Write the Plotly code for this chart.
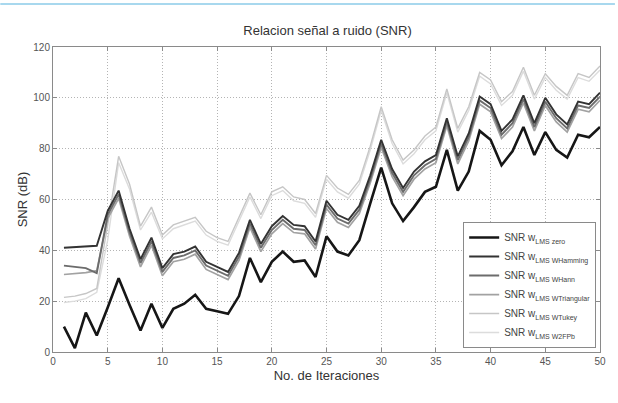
import plotly.graph_objects as go

iteraciones = list(range(1, 51))

snr_zero = [10, 1.5, 15.5, 6.5, 17.5, 29, 18.5, 8.5, 19, 9.5,
            17, 19, 22.5, 17, 16, 15, 22, 37, 27.5, 35.5,
            39.5, 35.5, 36, 29.5, 45.5, 39.5, 38, 44, 58.5, 72.5,
            58.5, 51.5, 57, 63, 65, 79.5, 63.5, 71, 87, 83.5,
            73.5, 79, 88.5, 77.5, 86.5, 79.5, 76.5, 85.5, 84.5, 88.5]

snr_hamming = [41, 41.2, 41.5, 41.8, 55.5, 63.5, 48.5, 36.5, 45, 33,
               38.5, 39.5, 41.5, 35.5, 33.5, 31.5, 39, 52, 42.5, 49.5,
               53.5, 50, 49.5, 43.5, 59.5, 54, 52, 57.5, 69.5, 83.5,
               72, 64.5, 71, 75, 77.5, 92, 77, 86, 100.5, 97.5,
               87, 91.5, 101, 90, 100, 93.5, 89.5, 98.5, 97.5, 102]

snr_hann = [34, 33.5, 33, 31, 54, 62, 47, 35, 43.5, 31.5,
            37, 38, 40, 34, 32, 30, 37.5, 50.5, 41, 48,
            52, 48.5, 48, 42, 58, 52.5, 50.5, 56, 68, 82,
            70.5, 63, 69.5, 73.5, 76, 90.5, 75.5, 84.5, 99, 96,
            85.5, 90, 99.5, 88.5, 98.5, 92, 88, 97, 96, 100.5]

snr_triangular = [30.5, 30.8, 31.2, 32, 52.5, 60.5, 45.5, 33.5, 42, 30,
                  35.5, 36.5, 38.5, 32.5, 30.5, 28.5, 36, 49, 39.5, 46.5,
                  50.5, 47, 46.5, 40.5, 56.5, 51, 49, 54.5, 66.5, 80.5,
                  69, 61.5, 68, 72, 74.5, 89, 74, 83, 97.5, 94.5,
                  84, 88.5, 98, 87, 97, 90.5, 86.5, 95.5, 94.5, 99]

snr_tukey = [21.5, 22, 23, 25, 50, 77, 66, 49.5, 57, 46,
             50, 51.5, 53, 47.5, 45, 43.5, 53, 62.5, 54, 63,
             65, 61, 60, 54.5, 69.5, 64.5, 62, 67.5, 81, 96.5,
             83.5, 75.5, 79.5, 85, 88.5, 103.5, 88, 96.5, 110, 107,
             98.5, 102.5, 112, 101, 109.5, 104.5, 101, 109.5, 108, 112.5]

snr_2fpb = [19.5, 20, 21, 23.5, 44, 74.5, 64, 48, 55, 44.5,
            48.5, 50, 51.5, 46, 43.5, 42, 51.5, 61, 52.5, 61.5,
            63.5, 59.5, 58.5, 53, 68, 63, 60.5, 66, 79.5, 95,
            82, 74, 78, 83.5, 87, 102, 86.5, 95, 108.5, 105.5,
            97, 101, 110.5, 99.5, 108, 103, 99.5, 108, 106.5, 111]

series = [
    ("SNR w<sub>LMS zero</sub>", snr_zero, "#161616", 2.6),
    ("SNR w<sub>LMS WHamming</sub>", snr_hamming, "#333333", 1.9),
    ("SNR w<sub>LMS WHann</sub>", snr_hann, "#6c6c6c", 1.9),
    ("SNR w<sub>LMS WTriangular</sub>", snr_triangular, "#a2a2a2", 1.7),
    ("SNR w<sub>LMS WTukey</sub>", snr_tukey, "#c6c6c6", 1.4),
    ("SNR w<sub>LMS W2FPb</sub>", snr_2fpb, "#dcdcdc", 1.4),
]

FONT = "Liberation Sans, Arial, sans-serif"

fig = go.Figure()
# draw the light curves first so the darker ones sit on top
for rank, (name, vals, color, width) in reversed(list(enumerate(series))):
    fig.add_trace(go.Scatter(
        x=iteraciones, y=vals, mode="lines", name=name,
        line=dict(color=color, width=width),
        legendrank=rank + 1,
    ))

axis_common = dict(
    showline=True, linecolor="#8a8a8a", linewidth=1, mirror="allticks",
    ticks="inside", ticklen=4, tickcolor="#8a8a8a",
    showgrid=True, gridcolor="#b4b4b4", griddash="1px,2px", gridwidth=1,
    zeroline=False,
    tickfont=dict(family=FONT, size=10, color="#555"),
)

fig.update_xaxes(range=[0, 50], tick0=0, dtick=5,
                 title=dict(text="No. de Iteraciones", standoff=4,
                            font=dict(family=FONT, size=13, color="#333")),
                 **axis_common)
fig.update_yaxes(range=[0, 120], tick0=0, dtick=20,
                 title=dict(text="SNR (dB)", standoff=2,
                            font=dict(family=FONT, size=13, color="#333")),
                 **axis_common)

fig.update_layout(
    width=618, height=403,
    margin=dict(l=53, r=15, t=47, b=51),
    paper_bgcolor="white", plot_bgcolor="white",
    title=dict(text="Relacion señal a ruido (SNR)", x=0.53, xanchor="center",
               y=1 - 30 / 403, yanchor="middle",
               font=dict(family=FONT, size=13, color="#333")),
    legend=dict(x=0.993, y=0.013, xanchor="right", yanchor="bottom",
                bgcolor="white", bordercolor="#8a8a8a", borderwidth=1,
                font=dict(family=FONT, size=10, color="#444"),
                itemwidth=30, tracegroupgap=0),
    showlegend=True,
    shapes=[dict(type="line", xref="paper", yref="paper",
                 x0=-53 / 550, x1=565 / 550, y0=348 / 305, y1=348 / 305,
                 line=dict(color="#a8d8ee", width=2))],
)

fig.write_html("out.html")
